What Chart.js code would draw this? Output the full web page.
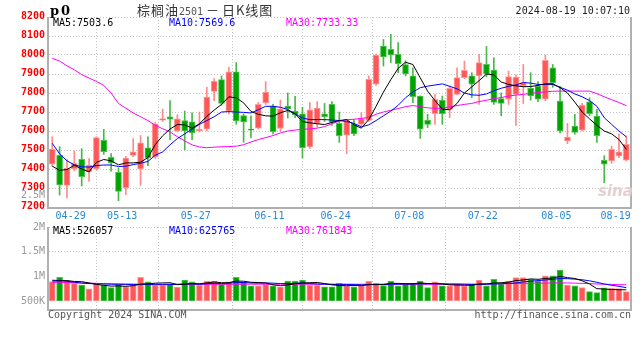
<!DOCTYPE html>
<html>
<head>
<meta charset="utf-8">
<script src="https://cdn.jsdelivr.net/npm/chart.js@4.4.1/dist/chart.umd.min.js"></script>
<style>
  html, body { margin:0; padding:0; background:#fff; }
  body { width:640px; height:349px; position:relative; overflow:hidden; font-family:'DejaVu Sans Mono', monospace; }
  .t { position:absolute; font-size:10px; line-height:12px; white-space:nowrap; }
  #main { position:absolute; left:0; top:0; }
  #vol { position:absolute; left:0; top:213px; }
</style>
</head>
<body>
<canvas id="main" width="640" height="227"></canvas>
<canvas id="vol" width="640" height="96"></canvas>

<div class="t" style="left:50px;top:3px;font:bold 13px 'DejaVu Serif',serif;letter-spacing:2px;">p0</div>
<div class="t" style="left:137px;top:2px;font-size:13px;line-height:16px;color:#333;font-family:'Noto Sans CJK SC',sans-serif;">
  <span style="letter-spacing:1px">棕榈油</span><span style="font:10px 'DejaVu Sans Mono',monospace;color:#555">2501</span> － <span style="letter-spacing:1px">日K线图</span>
</div>
<div class="t" style="right:10px;top:5px;color:#222;">2024-08-19 10:07:10</div>

<div class="t" style="left:53px;top:17px;color:#000;">MA5:7503.6</div>
<div class="t" style="left:169px;top:17px;color:#0000ff;">MA10:7569.6</div>
<div class="t" style="left:286px;top:17px;color:#ff00ff;">MA30:7733.33</div>

<div class="t" style="right:595px;top:189px;color:#999;">2.5M</div>
<div class="t" style="left:598px;top:182px;font:italic bold 15px 'DejaVu Sans',sans-serif;color:#e6cfcf;">sina</div>

<div class="t" style="left:53px;top:225px;color:#000;">MA5:526057</div>
<div class="t" style="left:169px;top:225px;color:#0000ff;">MA10:625765</div>
<div class="t" style="left:286px;top:225px;color:#ff00ff;">MA30:761843</div>

<div class="t" style="left:48px;top:309px;color:#555;">Copyright 2024 SINA.COM</div>
<div class="t" style="right:9px;top:309px;color:#555;">http://finance.sina.com.cn</div>

<script>
// trading days shown (MM-DD)
const dates = [
  '04-25','04-26','04-29','04-30','05-06','05-07','05-08','05-09','05-10','05-13',
  '05-14','05-15','05-16','05-17','05-20','05-21','05-22','05-23','05-24','05-27',
  '05-28','05-29','05-30','05-31','06-03','06-04','06-05','06-06','06-07','06-11',
  '06-12','06-13','06-14','06-17','06-18','06-19','06-20','06-21','06-24','06-25',
  '06-26','06-27','06-28','07-01','07-02','07-03','07-04','07-05','07-08','07-09',
  '07-10','07-11','07-12','07-15','07-16','07-17','07-18','07-19','07-22','07-23',
  '07-24','07-25','07-26','07-29','07-30','07-31','08-01','08-02','08-05','08-06',
  '08-07','08-08','08-09','08-12','08-13','08-14','08-15','08-16','08-19'
];

const openP = [
  7425,7472,7314,7400,7451,7385,7400,7551,7462,7383,
  7300,7472,7400,7511,7464,7657,7675,7600,7655,7648,
  7600,7610,7808,7870,7705,7912,7681,7610,7615,7748,
  7730,7613,7731,7705,7690,7516,7640,7690,7740,7640,
  7578,7637,7635,7656,7846,8047,8030,8003,7950,7890,
  7784,7656,7691,7761,7714,7793,7881,7890,7890,7951,
  7920,7770,7768,7792,7837,7825,7835,7768,7933,7758,
  7548,7626,7604,7754,7679,7446,7442,7469,7446
];
const closeP = [
  7505,7316,7405,7430,7360,7420,7565,7491,7432,7282,
  7458,7490,7538,7458,7638,7666,7662,7664,7600,7590,
  7610,7778,7862,7745,7912,7653,7648,7605,7740,7805,
  7597,7717,7716,7685,7512,7712,7720,7675,7645,7575,
  7652,7584,7665,7872,8000,7990,8000,7954,7900,7781,
  7609,7635,7767,7691,7825,7881,7919,7846,7960,7900,
  7750,7745,7886,7884,7855,7785,7768,7972,7855,7600,
  7568,7592,7737,7691,7575,7425,7504,7490,7530
];
const highP = [
  7570,7518,7450,7495,7507,7455,7570,7609,7481,7406,
  7467,7560,7576,7569,7645,7715,7760,7685,7705,7696,
  7700,7830,7876,7890,7935,7960,7690,7680,7750,7860,
  7740,7763,7800,7782,7725,7750,7755,7745,7755,7700,
  7660,7660,7697,7890,8005,8082,8109,8065,7970,7933,
  7785,7688,7793,7784,7837,7933,7968,7907,8003,8045,
  7985,7800,7915,7895,7950,7907,7860,8000,7950,7835,
  7640,7688,7745,7775,7714,7470,7521,7585,7574
];
const lowP = [
  7415,7263,7248,7390,7311,7335,7395,7477,7388,7233,
  7265,7465,7314,7418,7455,7650,7555,7595,7502,7555,
  7595,7600,7760,7735,7690,7635,7541,7565,7610,7740,
  7585,7598,7668,7670,7458,7508,7620,7650,7630,7540,
  7480,7575,7628,7650,7840,7942,7960,7907,7890,7749,
  7561,7618,7635,7635,7670,7790,7875,7775,7740,7885,
  7740,7680,7740,7630,7745,7762,7755,7760,7830,7590,
  7533,7583,7600,7680,7540,7328,7430,7460,7442
];

const ma5 = [
  7415,7393,7397,7420,7400,7385,7435,7450,7443,7422,
  7432,7432,7436,7460,7528,7575,7610,7634,7632,7615,
  7638,7677,7710,7740,7780,7775,7748,7703,7688,7680,
  7678,7696,7708,7690,7650,7643,7638,7634,7645,7655,
  7660,7632,7615,7660,7730,7805,7870,7930,7962,7950,
  7880,7810,7760,7715,7712,7745,7800,7832,7865,7900,
  7895,7858,7845,7838,7833,7834,7840,7848,7849,7828,
  7800,7752,7700,7664,7630,7600,7585,7555,7503.6
];
const ma10 = [
  7535,7480,7443,7422,7412,7410,7418,7421,7421,7413,
  7415,7423,7430,7440,7472,7490,7527,7560,7585,7610,
  7635,7655,7675,7700,7702,7700,7698,7695,7712,7730,
  7730,7725,7713,7690,7668,7660,7660,7660,7658,7655,
  7650,7640,7622,7632,7655,7680,7705,7735,7775,7805,
  7828,7836,7842,7848,7835,7822,7800,7790,7788,7795,
  7812,7825,7835,7842,7855,7852,7845,7845,7845,7830,
  7815,7795,7780,7760,7730,7670,7635,7600,7569.6
];
const ma30 = [
  7983,7968,7943,7922,7897,7879,7861,7840,7800,7745,
  7720,7695,7675,7655,7630,7612,7595,7570,7548,7527,
  7516,7512,7515,7517,7518,7520,7528,7542,7555,7565,
  7576,7590,7600,7605,7609,7611,7615,7623,7638,7652,
  7659,7662,7666,7672,7688,7700,7709,7718,7728,7734,
  7728,7722,7719,7720,7727,7734,7740,7745,7755,7762,
  7770,7776,7784,7789,7793,7798,7802,7806,7809,7810,
  7810,7810,7810,7810,7797,7780,7765,7750,7733.33
];

const volume = [
  910000,1120000,960000,830000,750000,570000,800000,750000,630000,790000,
  680000,750000,1120000,900000,750000,750000,790000,660000,990000,900000,
  750000,940000,930000,790000,900000,1120000,900000,710000,710000,790000,
  710000,670000,940000,940000,990000,750000,750000,670000,670000,830000,
  710000,670000,720000,940000,830000,720000,940000,710000,830000,830000,
  940000,630000,900000,710000,710000,790000,710000,800000,990000,710000,
  1020000,800000,940000,1100000,1100000,1020000,940000,1180000,1180000,1460000,
  750000,710000,630000,440000,390000,620000,600000,580000,440000
];
const volMa5 = [
  940000,950000,960000,920000,910000,850000,780000,740000,700000,710000,
  690000,720000,790000,810000,840000,850000,860000,770000,790000,820000,
  810000,850000,900000,860000,860000,940000,930000,880000,870000,850000,
  760000,720000,760000,810000,850000,860000,870000,820000,760000,730000,
  720000,730000,720000,770000,770000,780000,830000,830000,810000,810000,
  850000,820000,830000,800000,760000,750000,740000,740000,800000,800000,
  850000,860000,890000,960000,990000,1040000,1020000,1060000,1080000,1160000,
  1100000,1060000,950000,800000,580000,560000,540000,530000,526057
];
const volMa10 = [
  980000,960000,930000,880000,840000,820000,810000,800000,790000,790000,
  780000,770000,780000,780000,770000,770000,770000,780000,800000,800000,
  790000,810000,830000,820000,840000,870000,870000,850000,840000,850000,
  840000,820000,820000,830000,850000,820000,800000,790000,780000,780000,
  780000,770000,760000,770000,780000,770000,790000,790000,800000,800000,
  810000,810000,810000,810000,800000,800000,790000,780000,780000,790000,
  800000,810000,830000,850000,900000,930000,960000,990000,1020000,1060000,
  1050000,1030000,1000000,950000,880000,800000,740000,690000,625765
];
const volMa30 = [
  880000,880000,870000,860000,850000,840000,830000,820000,810000,800000,
  800000,800000,790000,790000,790000,790000,790000,790000,790000,790000,
  790000,790000,790000,790000,790000,790000,790000,790000,790000,790000,
  790000,790000,790000,790000,790000,790000,790000,790000,790000,790000,
  790000,790000,790000,790000,790000,790000,790000,790000,790000,790000,
  790000,790000,790000,790000,790000,790000,790000,790000,790000,800000,
  810000,810000,820000,820000,830000,830000,840000,840000,850000,850000,
  850000,840000,830000,820000,800000,790000,780000,770000,761843
];

const xTickDates = ['04-29','05-13','05-27','06-11','06-24','07-08','07-22','08-05','08-19'];
const volTickValues = [500000, 1000000, 1500000, 2000000];
const volTickLabels = ['500K', '1M', '1.5M', '2M'];

const RED = '#ff5757', RED_EDGE = '#ff9a9a', RED_WICK = '#ff8a8a';
const GREEN = '#00a400', GREEN_EDGE = '#50c050', GREEN_WICK = '#48b848';
const GRID = '#c6c6c6';

const up = closeP.map((c, i) => c >= openP[i]);
const xMin = -0.44, xMax = dates.length - 0.5;
const lastIdx = xTickDates.length - 1;
// gridline sits at the right edge of each labelled day; the last label is kept inside the frame
const xTicks = xTickDates.map((d, k) => k === lastIdx ? xMax - 1.95 : dates.indexOf(d) + 0.5);

const framePlugin = {
  id: 'frame',
  afterDraw(chart) {
    const a = chart.chartArea, c = chart.ctx;
    c.save();
    c.strokeStyle = '#b0b0b0';
    c.lineWidth = 2;
    c.beginPath();
    c.moveTo(a.left - 1, a.top);
    c.lineTo(a.left - 1, a.bottom + 1);
    c.lineTo(a.right + 1, a.bottom + 1);
    c.lineTo(a.right + 1, a.top);
    c.stroke();
    c.restore();
  }
};

function xScale(showLabels) {
  return {
    type: 'linear', min: xMin, max: xMax, offset: false,
    afterBuildTicks: ax => { ax.ticks = xTicks.map(v => ({ value: v })); },
    afterFit: ax => { ax.height = showLabels ? 20 : 0; },
    grid: {
      drawTicks: false,
      color: ctx => ctx.index === lastIdx ? 'rgba(0,0,0,0)' : GRID
    },
    border: { display: false, dash: [1, 2] },
    ticks: {
      display: showLabels, autoSkip: false, maxRotation: 0, padding: 3,
      color: '#2a88d6', font: { family: 'DejaVu Sans Mono', size: 10 },
      callback: (v, i) => xTickDates[i]
    }
  };
}

function lineSet(data, color, axis) {
  return {
    type: 'line', data: data.map((v, i) => ({ x: i, y: v })),
    borderColor: color, borderWidth: 1, pointRadius: 0, tension: 0,
    yAxisID: axis, order: 0
  };
}

new Chart(document.getElementById('main'), {
  type: 'bar',
  data: {
    datasets: [
      lineSet(ma5, '#000000', 'y'),
      lineSet(ma10, '#0000ff', 'y'),
      lineSet(ma30, '#ff00ff', 'y'),
      {
        data: openP.map((o, i) => ({ x: i, y: [o, closeP[i]] })),
        backgroundColor: up.map(u => u ? RED : GREEN),
        borderColor: up.map(u => u ? RED_EDGE : GREEN_EDGE),
        borderWidth: 1, borderSkipped: false, minBarLength: 1,
        barThickness: 6, grouped: false, order: 1
      },
      {
        data: lowP.map((l, i) => ({ x: i, y: [l, highP[i]] })),
        backgroundColor: up.map(u => u ? RED_WICK : GREEN_WICK),
        borderWidth: 0, barThickness: 1, grouped: false, order: 2
      }
    ]
  },
  options: {
    responsive: false, animation: false,
    layout: { padding: { top: 17, right: 10, left: 0, bottom: 0 } },
    plugins: { legend: { display: false }, tooltip: { enabled: false } },
    scales: {
      x: xScale(true),
      y: {
        min: 7200, max: 8200,
        afterFit: ax => { ax.width = 49; },
        grid: { drawTicks: false, color: GRID },
        border: { display: false, dash: [1, 2] },
        ticks: {
          stepSize: 100, padding: 4, labelOffset: -1,
          color: '#ff0000', font: { family: 'DejaVu Sans Mono', size: 10, weight: 'bold' },
          callback: v => String(v)
        }
      }
    }
  },
  plugins: [framePlugin]
});

function makeVolChart(canvas) {
  return new Chart(canvas, {
    type: 'bar',
    data: {
      datasets: [
        lineSet(volMa5, '#000000', 'yv'),
        lineSet(volMa10, '#0000ff', 'yv'),
        lineSet(volMa30, '#ff00ff', 'yv'),
        {
          data: volume.map((v, i) => ({ x: i, y: v })),
          backgroundColor: up.map(u => u ? RED : GREEN),
          borderColor: up.map(u => u ? RED_EDGE : GREEN_EDGE),
          borderWidth: 1, borderSkipped: false,
          barThickness: 6, grouped: false, yAxisID: 'yv', order: 1
        }
      ]
    },
    options: {
      responsive: false, animation: false,
      layout: { padding: { top: 14, right: 10, left: 0, bottom: 0 } },
      plugins: { legend: { display: false }, tooltip: { enabled: false } },
      scales: {
        x: xScale(false),
        yv: { display: false, min: -380000, max: 3490000 },
        yl: {
          position: 'left', min: 338000, max: 2000000,
          afterFit: ax => { ax.width = 49; },
          afterBuildTicks: ax => { ax.ticks = volTickValues.map(v => ({ value: v })); },
          grid: {
            drawTicks: false,
            color: ctx => (ctx.tick && ctx.tick.value >= 1500000) ? GRID : 'rgba(0,0,0,0)'
          },
          border: { display: false, dash: [1, 2] },
          ticks: {
            padding: 4, color: '#999999',
            font: { family: 'DejaVu Sans Mono', size: 10 },
            callback: (v, i) => volTickLabels[i]
          }
        }
      }
    },
    plugins: [framePlugin]
  });
}

// the volume frame has to end 96px below the canvas top: if the layout keeps room
// underneath, rebuild the chart on a taller canvas
const volCanvas = document.getElementById('vol');
let volChart = makeVolChart(volCanvas);
const extra = Math.round(96 - volChart.chartArea.bottom);
if (extra > 0) {
  volChart.destroy();
  volCanvas.width = 640;
  volCanvas.height = 96 + extra;
  volCanvas.style.width = '640px';
  volCanvas.style.height = (96 + extra) + 'px';
  volChart = makeVolChart(volCanvas);
}
</script>
</body>
</html>
